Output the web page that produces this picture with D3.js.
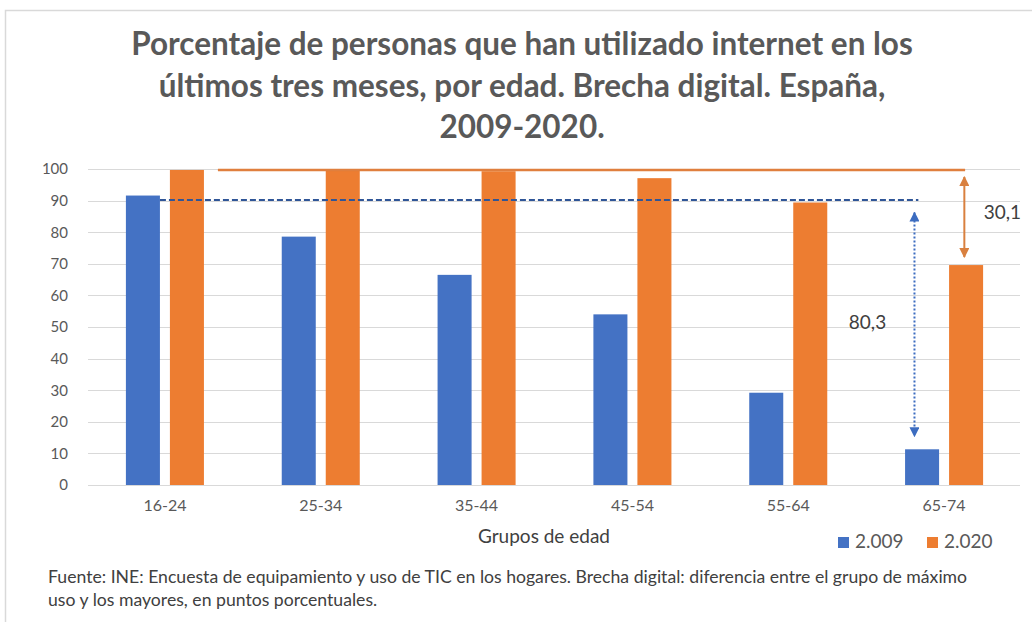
<!DOCTYPE html>
<html>
<head>
<meta charset="utf-8">
<script src="https://cdn.jsdelivr.net/npm/d3@7"></script>
<style>
  html, body { margin: 0; padding: 0; background: #ffffff; }
  svg { display: block; }
  text { font-family: Lato, "Open Sans", sans-serif; }
</style>
</head>
<body>
<svg id="chart" width="1032" height="622"></svg>
<script>
// ---- data ----
const categories = ["16-24", "25-34", "35-44", "45-54", "55-64", "65-74"];
const seriesNames = ["2.009", "2.020"];
const values2009 = [91.6, 78.6, 66.5, 54.0, 29.2, 11.3];
const values2020 = [99.7, 99.5, 99.3, 97.1, 89.4, 69.6];
const yTicks = [0, 10, 20, 30, 40, 50, 60, 70, 80, 90, 100];
const titleLines = [
  "Porcentaje de personas que han utilizado internet en los",
  "últimos tres meses, por edad. Brecha digital. España,",
  "2009-2020."
];
const xAxisTitle = "Grupos de edad";
const footnoteLines = [
  "Fuente: INE: Encuesta de equipamiento y uso de TIC en los hogares. Brecha digital: diferencia entre el grupo de máximo",
  "uso y los mayores, en  puntos porcentuales."
];
const gapLabels = ["80,3", "30,1"];

// ---- setup ----
const svg = d3.select("#chart");
const colors = { "2.009": "#4472C4", "2.020": "#ED7D31" };
const rows = categories.map((c, i) => ({ cat: c, "2.009": values2009[i], "2.020": values2020[i] }));

// frame
svg.append("rect").attr("x", 5.5).attr("y", 10.5).attr("width", 1040).attr("height", 640)
  .attr("fill", "#fff").attr("stroke", "#d9d9d9").attr("stroke-width", 1.5);

const x0 = d3.scaleBand().domain(categories).range([87, 1022]).paddingInner(0).paddingOuter(0);
const x1 = d3.scaleBand().domain(seriesNames).range([0, x0.bandwidth()]).paddingInner(0.227).paddingOuter(0.884);
const y = d3.scaleLinear().domain([0, 100]).range([485, 169]);

// gridlines
svg.append("g").selectAll("line").data(yTicks).join("line")
  .attr("x1", 88).attr("x2", 1020)
  .attr("y1", d => Math.round(y(d)) + 0.5).attr("y2", d => Math.round(y(d)) + 0.5)
  .attr("stroke", "#d9d9d9").attr("stroke-width", 1);

// y axis labels
const yAxis = d3.axisLeft(y).tickValues(yTicks).tickSize(0).tickPadding(0);
const yg = svg.append("g").attr("transform", "translate(68,0)").call(yAxis);
yg.select(".domain").remove();
yg.selectAll("text").attr("font-family", "Lato, sans-serif").attr("font-size", 15).attr("fill", "#595959");

// x axis labels
const xAxis = d3.axisBottom(x0).tickSize(0).tickPadding(0);
const xg = svg.append("g").attr("transform", "translate(0,500)").call(xAxis);
xg.select(".domain").remove();
xg.selectAll("text").attr("font-family", "Lato, sans-serif").attr("font-size", 16).attr("fill", "#595959").attr("dy", "0.71em");

// bars
svg.append("g").selectAll("g").data(rows).join("g")
  .attr("transform", d => `translate(${x0(d.cat)},0)`)
  .selectAll("rect").data(d => seriesNames.map(s => ({ s, v: d[s] }))).join("rect")
  .attr("x", d => x1(d.s)).attr("width", x1.bandwidth())
  .attr("y", d => y(d.v)).attr("height", d => y(0) - y(d.v))
  .attr("fill", d => colors[d.s]);

// ---- annotations ----
const defs = svg.append("defs");
function marker(id, color) {
  defs.append("marker").attr("id", id).attr("viewBox", "0 0 10 10")
    .attr("refX", 9).attr("refY", 5).attr("markerWidth", 5).attr("markerHeight", 5)
    .attr("orient", "auto-start-reverse").attr("markerUnits", "strokeWidth")
    .append("path").attr("d", "M0,0 L10,5 L0,10 Z").attr("fill", color);
}
marker("arrOrange", "#D9803F");
marker("arrBlue", "#3C6CC0");

const max2009 = d3.max(values2009), min2009 = values2009[values2009.length - 1];
const max2020 = d3.max(values2020), min2020 = values2020[values2020.length - 1];
const lastCat = categories[categories.length - 1];

// orange horizontal line at 2020 max
svg.append("line")
  .attr("x1", x0(categories[0]) + x0.bandwidth() * 0.84).attr("x2", x0(lastCat) + x0.bandwidth() * 0.635)
  .attr("y1", y(max2020)).attr("y2", y(max2020))
  .attr("stroke", "#E07F3E").attr("stroke-width", 2.5);

// blue dashed horizontal line at 2009 max
svg.append("line")
  .attr("x1", x0(categories[0]) + x1("2.009") + x1.bandwidth()).attr("x2", x0(lastCat) + x0.bandwidth() * 0.335)
  .attr("y1", y(max2009) + 4.5).attr("y2", y(max2009) + 4.5)
  .attr("stroke", "#2F5597").attr("stroke-width", 2).attr("stroke-dasharray", "6,3");

// orange double arrow
const oax = x0(lastCat) + x0.bandwidth() * 0.63;
svg.append("line").attr("x1", oax).attr("x2", oax)
  .attr("y1", y(max2020) + 7).attr("y2", y(min2020) - 8)
  .attr("stroke", "#D9803F").attr("stroke-width", 2)
  .attr("marker-start", "url(#arrOrange)").attr("marker-end", "url(#arrOrange)");

// blue dotted double arrow
const bax = x0(lastCat) + x0.bandwidth() * 0.31;
svg.append("line").attr("x1", bax).attr("x2", bax)
  .attr("y1", y(max2009) + 17).attr("y2", y(min2009) - 13)
  .attr("stroke", "#3C6CC0").attr("stroke-width", 2).attr("stroke-dasharray", "2,2")
  .attr("marker-start", "url(#arrBlue)").attr("marker-end", "url(#arrBlue)");

svg.append("text").attr("x", bax - 47).attr("y", y((max2009 + min2009) / 2) + 7)
  .attr("text-anchor", "middle").attr("font-size", 19).attr("fill", "#404040").text(gapLabels[0]);
svg.append("text").attr("x", oax + 38).attr("y", y((max2020 + min2020) / 2) + 1)
  .attr("text-anchor", "middle").attr("font-size", 19).attr("fill", "#404040").text(gapLabels[1]);

// ---- title ----
const title = svg.append("g").attr("font-weight", "bold").attr("fill", "#595959");
const tl = title.selectAll("text").data(titleLines).join("text")
  .attr("x", 522).attr("y", (d, i) => 55 + i * 41.5)
  .attr("text-anchor", "middle").attr("font-size", 26).text(d => d);
const w0 = tl.nodes()[0].getComputedTextLength();
tl.attr("font-size", 26 * 782 / w0);

// x axis title
svg.append("text").attr("x", 544).attr("y", 543).attr("text-anchor", "middle")
  .attr("font-size", 19).attr("fill", "#404040").text(xAxisTitle);

// legend
const leg = svg.append("g").selectAll("g").data(seriesNames).join("g")
  .attr("transform", (d, i) => `translate(${838 + i * 89},0)`);
leg.append("rect").attr("x", 0).attr("y", 537).attr("width", 11).attr("height", 11).attr("fill", d => colors[d]);
leg.append("text").attr("x", 17).attr("y", 548).attr("font-size", 19).attr("fill", "#595959").text(d => d);

// footnote
const fn = svg.append("g").attr("fill", "#404040");
const fl = fn.selectAll("text").data(footnoteLines).join("text")
  .attr("x", 48).attr("y", (d, i) => 583 + i * 23).attr("font-size", 14).text(d => d);
const fw = fl.nodes()[0].getComputedTextLength();
fl.attr("font-size", 14 * 920 / fw);
</script>
</body>
</html>
